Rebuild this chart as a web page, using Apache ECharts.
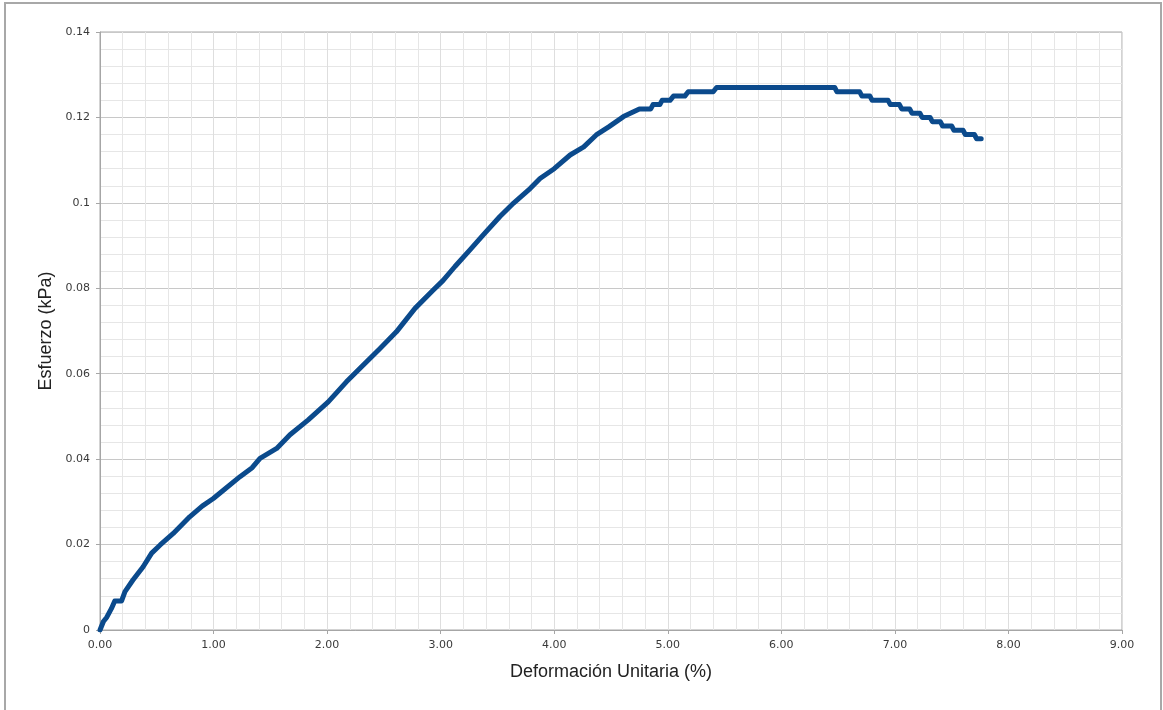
<!DOCTYPE html>
<html>
<head>
<meta charset="utf-8">
<script src="https://cdn.jsdelivr.net/npm/echarts@6/dist/echarts.min.js"></script>
<style>
  html, body { margin: 0; padding: 0; background: #fff; }
  #chart { width: 1163px; height: 710px; }
</style>
</head>
<body>
<div id="chart"></div>
<script>
// Deformación unitaria (%) y esfuerzo (kPa)
var strain = [0, 0.03, 0.06, 0.10, 0.13, 0.19, 0.22, 0.29, 0.38, 0.455, 0.53, 0.645, 0.79, 0.90, 0.998,
  1.10, 1.233, 1.34, 1.409, 1.556, 1.673, 1.834, 2.01, 2.17, 2.29, 2.466, 2.61, 2.774, 2.935, 3.02,
  3.126, 3.258, 3.375, 3.522, 3.64, 3.79, 3.875, 4.0, 4.14, 4.26, 4.37, 4.48, 4.61, 4.75, 4.85,
  4.87, 4.93, 4.95, 5.02, 5.05, 5.15, 5.18, 5.40, 5.43, 6.47, 6.49, 6.69, 6.71, 6.78, 6.80,
  6.94, 6.96, 7.04, 7.06, 7.13, 7.15, 7.22, 7.24, 7.31, 7.33, 7.40, 7.42, 7.50, 7.52, 7.60,
  7.62, 7.70, 7.72, 7.76];
var stress = [0, 0.002, 0.003, 0.005, 0.0068, 0.0068, 0.009, 0.0117, 0.0148, 0.018, 0.0199, 0.0226, 0.0265, 0.029, 0.0308,
  0.033, 0.0359, 0.038, 0.0402, 0.0425, 0.0457, 0.0492, 0.0534, 0.0581, 0.0613, 0.0659, 0.0698, 0.0753, 0.0796, 0.0818,
  0.0851, 0.089, 0.0925, 0.0968, 0.0999, 0.1034, 0.1057, 0.108, 0.1112, 0.1131, 0.1159, 0.1178, 0.1202, 0.122, 0.122,
  0.123, 0.123, 0.124, 0.124, 0.125, 0.125, 0.126, 0.126, 0.127, 0.127, 0.126, 0.126, 0.125, 0.125, 0.124,
  0.124, 0.123, 0.123, 0.122, 0.122, 0.121, 0.121, 0.120, 0.120, 0.119, 0.119, 0.118, 0.118, 0.117, 0.117,
  0.116, 0.116, 0.115, 0.115];

var points = strain.map(function (x, i) { return [x, stress[i]]; });

var myChart = echarts.init(document.getElementById('chart'));
myChart.setOption({
  animation: false,
  backgroundColor: '#fff',
  graphic: [{
    type: 'rect',
    shape: { x: 5, y: 3, width: 1156, height: 730 },
    style: { fill: 'none', stroke: '#a8a8a8', lineWidth: 2 },
    silent: true
  }],
  grid: {
    left: 100, top: 32, right: 41, bottom: 80,
    show: true, borderColor: '#a6a6a6', borderWidth: 1
  },
  xAxis: {
    type: 'value',
    min: 0, max: 9, interval: 1,
    name: 'Deformación Unitaria (%)',
    nameLocation: 'middle',
    nameGap: 33,
    nameTextStyle: { fontFamily: 'Liberation Sans', fontSize: 18, color: '#222' },
    axisLine: { lineStyle: { color: '#a6a6a6' } },
    axisTick: { show: true, length: 4, lineStyle: { color: '#a6a6a6' } },
    axisLabel: {
      margin: 10, fontFamily: 'DejaVu Sans', fontSize: 11, color: '#3a3a3a',
      formatter: function (v) { return v.toFixed(2); }
    },
    splitLine: { show: true, lineStyle: { color: '#dedede' } },
    minorTick: { show: false, splitNumber: 5 },
    minorSplitLine: { show: true, lineStyle: { color: '#e6e6e6' } }
  },
  yAxis: {
    type: 'value',
    min: 0, max: 0.14, interval: 0.02,
    name: 'Esfuerzo (kPa)',
    nameLocation: 'middle',
    nameGap: 43,
    nameTextStyle: { fontFamily: 'Liberation Sans', fontSize: 18, color: '#222' },
    axisLine: { show: true, lineStyle: { color: '#a6a6a6' } },
    axisTick: { show: true, length: 4, lineStyle: { color: '#a6a6a6' } },
    axisLabel: { margin: 10, fontFamily: 'DejaVu Sans', fontSize: 11, color: '#3a3a3a' },
    splitLine: { show: true, lineStyle: { color: '#c8c8c8' } },
    minorTick: { show: false, splitNumber: 5 },
    minorSplitLine: { show: true, lineStyle: { color: '#e6e6e6' } }
  },
  series: [{
    type: 'line',
    data: points,
    showSymbol: false,
    smooth: false,
    lineStyle: { color: '#0b4a8c', width: 5, join: 'round', cap: 'round' },
    z: 5
  }]
});
</script>
</body>
</html>
